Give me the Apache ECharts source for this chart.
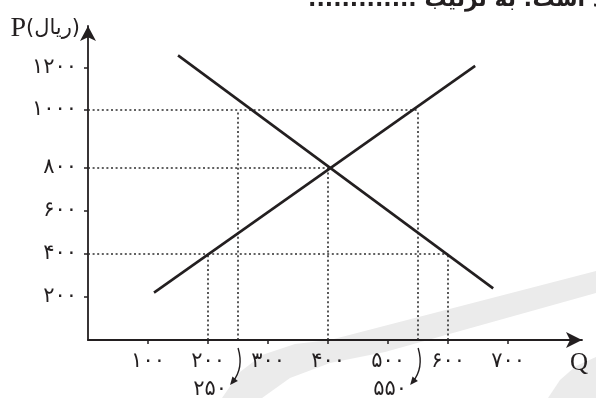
<!DOCTYPE html>
<html>
<head>
<meta charset="utf-8">
<script src="https://cdn.jsdelivr.net/npm/echarts@6/dist/echarts.min.js"></script>
<style>
  html, body { margin: 0; padding: 0; background: #fff; }
  #chart { width: 596px; height: 398px; }
</style>
</head>
<body>
<div id="chart"></div>
<script>
// tick values and their (Persian) labels
var qTicks = [100, 200, 300, 400, 500, 600, 700];
var qTickLabels = ['۱۰۰', '۲۰۰', '۳۰۰', '۴۰۰', '۵۰۰', '۶۰۰', '۷۰۰'];
var pTicks = [200, 400, 600, 800, 1000, 1200];
var pTickLabels = ['۲۰۰', '۴۰۰', '۶۰۰', '۸۰۰', '۱۰۰۰', '۱۲۰۰'];

// demand and supply, end points [Q, P]
var demand = [[150, 1260], [675, 240]];
var supply = [[110, 220], [645, 1210]];

var guidePrices = [1000, 800, 400];
var guideQuantities = [[250, 550], [400], [200, 600]];

// quantities pointed at under the Q axis
var markedQ = [250, 550];
var markedQLabels = ['۲۵۰', '۵۵۰'];

// the drawing is not to scale on P: the 800-1000 step is drawn taller
var pStops = [0, 800, 1000, 1200];
var pStopPos = [0, 800, 1070, 1265];
function toAxis(p) {
    var i = 1;
    while (i < pStops.length - 1 && p > pStops[i]) i++;
    var a = pStops[i - 1], b = pStops[i];
    return pStopPos[i - 1] + (p - a) / (b - a) * (pStopPos[i] - pStopPos[i - 1]);
}

var ink = '#231f20';
var digitFont = 'DejaVu Sans';
var pTickPos = pTicks.map(toAxis);

var guideData = [];
guidePrices.forEach(function (p, i) {
    var y = toAxis(p);
    var qs = guideQuantities[i];
    guideData.push({ coords: [[0, y], [Math.max.apply(null, qs), y]] });
    qs.forEach(function (q) {
        guideData.push({ coords: [[q, 0], [q, y]] });
    });
});

function toPlot(pts) {
    return pts.map(function (d) { return [d[0], toAxis(d[1])]; });
}

var myChart = echarts.init(document.getElementById('chart'));

var option = {
    backgroundColor: '#fff',
    animation: false,
    grid: { left: 88, right: 14, top: 26, bottom: 58 },
    xAxis: {
        type: 'value',
        min: 0,
        max: 823,
        name: 'Q',
        nameLocation: 'end',
        nameGap: 6,
        nameTextStyle: {
            fontFamily: 'Liberation Serif', fontSize: 25, color: ink,
            align: 'right', verticalAlign: 'top', padding: [11, 0, 0, 0]
        },
        axisLine: {
            symbol: ['none', 'arrow'],
            symbolSize: [12, 16],
            lineStyle: { color: ink, width: 1.8 }
        },
        axisTick: { customValues: qTicks, length: 4, lineStyle: { color: ink, width: 1.5 } },
        axisLabel: {
            customValues: qTicks,
            formatter: function (v) { return qTickLabels[qTicks.indexOf(v)]; },
            margin: 11, fontSize: 21, color: ink, fontFamily: digitFont
        },
        splitLine: { show: false }
    },
    yAxis: {
        type: 'value',
        min: 0,
        max: 1460,
        name: '{p|P}{u|(ریال)}',
        nameLocation: 'end',
        nameGap: -3,
        nameTextStyle: {
            align: 'right', verticalAlign: 'middle', padding: [0, 8, 0, 0],
            rich: {
                p: { fontFamily: 'Liberation Serif', fontSize: 28, color: ink },
                u: { fontFamily: 'DejaVu Sans', fontSize: 21, color: ink }
            }
        },
        axisLine: {
            symbol: ['none', 'arrow'],
            symbolSize: [12, 15],
            lineStyle: { color: ink, width: 1.8 }
        },
        axisTick: { customValues: pTickPos, length: 4, lineStyle: { color: ink, width: 1.5 } },
        axisLabel: {
            customValues: pTickPos,
            formatter: function (v) {
                for (var i = 0; i < pTickPos.length; i++) {
                    if (Math.abs(pTickPos[i] - v) < 0.5) return pTickLabels[i];
                }
                return '';
            },
            margin: 11, fontSize: 21, color: ink, fontFamily: digitFont
        },
        splitLine: { show: false }
    },
    series: [{
        type: 'lines',
        coordinateSystem: 'cartesian2d',
        silent: true,
        z: 1,
        lineStyle: { color: '#2e2e2e', width: 1.6, type: [2, 2.6], opacity: 1, curveness: 0 },
        data: guideData
    }, {
        name: 'demand',
        type: 'line',
        symbol: 'none',
        z: 3,
        lineStyle: { color: ink, width: 2.6 },
        data: toPlot(demand)
    }, {
        name: 'supply',
        type: 'line',
        symbol: 'none',
        z: 3,
        lineStyle: { color: ink, width: 2.6 },
        data: toPlot(supply)
    }]
};
myChart.setOption(option);

// decorations: faint watermark, cut-off question text, pointers to 250 / 550
var graphics = [{
    type: 'polygon', z: -10, silent: true,
    shape: {
        points: [[222, 398], [240, 372], [262, 355], [295, 344], [330, 340], [596, 271],
                 [596, 293], [385, 352], [330, 363], [290, 378], [262, 398]]
    },
    style: { fill: '#ebebeb' }
}, {
    type: 'polygon', z: -10, silent: true,
    shape: { points: [[548, 398], [560, 380], [576, 366], [596, 357], [596, 398]] },
    style: { fill: '#ebebeb' }
}, {
    type: 'text', silent: true,
    x: 604, y: 11,
    style: {
        text: '............. د است؛ به ترتیب',
        align: 'right', verticalAlign: 'bottom',
        font: 'bold 22px "DejaVu Sans"', fill: ink
    }
}];

markedQ.forEach(function (q, i) {
    var pt = myChart.convertToPixel({ xAxisIndex: 0, yAxisIndex: 0 }, [q, 0]);
    var x0 = pt[0], y0 = pt[1];
    var sx = x0, sy = y0 + 8, cx = x0 + 6, cy = y0 + 28, ex = x0 - 8, ey = y0 + 45;
    var dx = ex - cx, dy = ey - cy, len = Math.sqrt(dx * dx + dy * dy);
    dx /= len; dy /= len;
    var bx = ex - dx * 8, by = ey - dy * 8;
    graphics.push({
        type: 'bezierCurve', silent: true,
        shape: { x1: sx, y1: sy, x2: ex - dx * 4, y2: ey - dy * 4, cpx1: cx, cpy1: cy },
        style: { stroke: ink, lineWidth: 1.4, fill: null }
    }, {
        type: 'polygon', silent: true,
        shape: { points: [[ex, ey], [bx - dy * 3.5, by + dx * 3.5], [bx + dy * 3.5, by - dx * 3.5]] },
        style: { fill: ink }
    }, {
        type: 'text', silent: true,
        x: x0 - 28, y: y0 + 50,
        style: {
            text: markedQLabels[i], align: 'center', verticalAlign: 'middle',
            font: '21px "DejaVu Sans"', fill: ink
        }
    });
});

myChart.setOption({ graphic: graphics });
</script>
</body>
</html>
